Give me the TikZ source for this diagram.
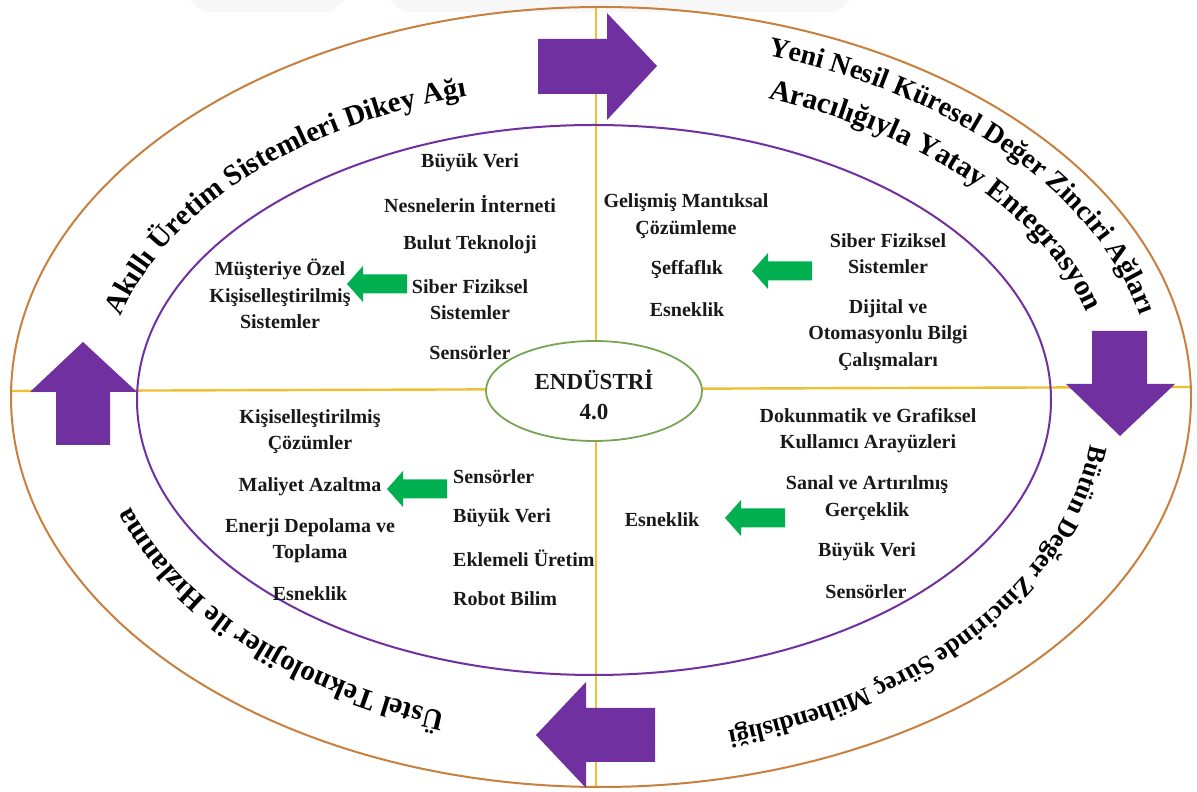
\documentclass[tikz,border=0pt]{standalone}
\usepackage{fontspec}
\setmainfont{Liberation Serif}
\usetikzlibrary{decorations.text,shapes.geometric,calc}
\definecolor{ringorange}{RGB}{200,128,62}
\definecolor{ringpurple}{RGB}{112,48,160}
\definecolor{arrowpurple}{RGB}{112,48,160}
\definecolor{arrowgreen}{RGB}{0,176,80}
\definecolor{coregreen}{RGB}{120,165,85}
\definecolor{lineyellow}{RGB}{240,192,50}
\definecolor{inktext}{RGB}{25,25,25}
\newcommand\ringA{\fontsize{29}{29}\selectfont\bfseries}
\newcommand\ringB{\fontsize{28}{28}\selectfont\bfseries}
\newcommand\ringBB{\fontsize{29.5}{29.5}\selectfont\bfseries}
\newcommand\ringC{\fontsize{26}{26}\selectfont\bfseries}
\newcommand\ringD{\fontsize{29}{29}\selectfont\bfseries}
\newcommand\greenarrow[2]{\fill[arrowgreen] (#1,#2) -- ++(16,18) -- ++(0,-8.5) -- ++(44,0) -- ++(0,-19) -- ++(-44,0) -- ++(0,-8.5) -- cycle;}
\begin{document}
\begin{tikzpicture}[x=1pt,y=1pt,
  item/.style={font=\fontsize{20}{26.5}\selectfont\bfseries, align=center, inner sep=0pt, text=inktext},
  coretext/.style={font=\fontsize{23}{30}\selectfont\bfseries, align=center, inner sep=0pt, text=inktext},
  coreshape/.style={ellipse, draw=coregreen, line width=1.8pt, fill=white, minimum width=216pt, minimum height=100pt, inner sep=0pt},
  bigarrow/.style={fill=arrowpurple},
  ringtext/.style={decorate}
]
\useasboundingbox (0,0) rectangle (1197,792);
\fill[white] (0,0) rectangle (1197,792);
\clip (0,0) rectangle (1197,792);
% faint banner at top
\fill[gray!6] (190,792) -- (345,792) -- (332,780) -- (203,780) -- cycle;
\fill[gray!6] (390,792) -- (850,792) -- (837,780) -- (403,780) -- cycle;

\coordinate (ringc) at (597,394);
\coordinate (hl) at (11,401);
\coordinate (hr) at (1191,405);
\coordinate (vt) at (596,784);
\coordinate (vb) at (596,4);

% quadrant lines
\draw[lineyellow, line width=2.4pt] (hl) -- (hr);
\draw[lineyellow, line width=2.4pt] (vt) -- (vb);

% ellipses
\draw[ringorange, line width=2pt] (601,395) ellipse [x radius=590pt, y radius=390pt];
\draw[ringpurple, line width=2pt] (594,392) ellipse [x radius=457pt, y radius=275pt];

% centre
\node[coreshape] (core) at (594,401) {};
\node[coretext] (coretxt) at (594,397) {ENDÜSTRİ\\4.0};

% purple arrows
\fill[bigarrow] (538,753) -- (607,753) -- (607,779) -- (657,726) -- (607,672) -- (607,698) -- (538,698) -- cycle;
\fill[bigarrow] (1092,461) -- (1147,461) -- (1147,408) -- (1175,408) -- (1120,356) -- (1066,408) -- (1092,408) -- cycle;
\fill[bigarrow] (83,450) -- (137,400) -- (110,400) -- (110,347) -- (56,347) -- (56,400) -- (30,400) -- cycle;
\fill[bigarrow] (536,57) -- (586,110) -- (586,84) -- (655,84) -- (655,30) -- (586,30) -- (586,4) -- cycle;

% green arrows
\greenarrow{347}{508}
\greenarrow{752}{521}
\greenarrow{387}{303}
\greenarrow{725}{274}

% top-left quadrant
\node[item] (tl1) at (470,629) {Büyük Veri};
\node[item] (tl2) at (470,588) {Nesnelerin İnterneti};
\node[item] (tl3) at (470,547) {Bulut Teknoloji};
\node[item] (tl4) at (470,492.5) {Siber Fiziksel\\Sistemler};
\node[item] (tl5) at (470,439) {Sensörler};
\node[item] (tl6) at (280,498) {Müşteriye Özel\\Kişiselleştirilmiş\\Sistemler};

% top-right quadrant
\node[item] (tr1) at (686,576) {Gelişmiş Mantıksal\\Çözümleme};
\node[item] (tr2) at (687,522) {Şeffaflık};
\node[item] (tr3) at (687,482) {Esneklik};
\node[item] (tr4) at (888,538.5) {Siber Fiziksel\\Sistemler};
\node[item] (tr5) at (888,457) {Dijital ve\\Otomasyonlu Bilgi\\Çalışmaları};

% bottom-left quadrant
\node[item] (bl1) at (310,360.5) {Kişiselleştirilmiş\\Çözümler};
\node[item] (bl2) at (310,305) {Maliyet Azaltma};
\node[item] (bl3) at (310,251.5) {Enerji Depolama ve\\Toplama};
\node[item] (bl4) at (310,198) {Esneklik};
\node[item, anchor=west] (bl5) at (453,315) {Sensörler};
\node[item, anchor=west] (bl6) at (453,274) {Büyük Veri};
\node[item, anchor=west] (bl7) at (453,234) {Eklemeli Üretim};
\node[item, anchor=west] (bl8) at (453,193) {Robot Bilim};

% bottom-right quadrant
\node[item] (br1) at (868,361.5) {Dokunmatik ve Grafiksel\\Kullanıcı Arayüzleri};
\node[item] (br2) at (867,294) {Sanal ve Artırılmış\\Gerçeklik};
\node[item] (br3) at (867,240) {Büyük Veri};
\node[item] (br4) at (866,200) {Sensörler};
\node[item] (br5) at (662,272) {Esneklik};

% ring texts
\path[ringtext, decoration={text along path, text align=left, text={|\ringA|Akıllı Üretim Sistemleri Dikey Ağı}}]
  ($(ringc)+(165:493pt and 313pt)$) arc[start angle=165, end angle=80, x radius=493pt, y radius=313pt];
\path[ringtext, decoration={text along path, text align=left, text={|\ringB|Yeni Nesil Küresel Değer Zinciri Ağları}}]
  ($(ringc)+(72.2:558pt and 360pt)$) arc[start angle=72.2, end angle=-2, x radius=558pt, y radius=360pt];
\path[ringtext, decoration={text along path, text align=left, text={|\ringBB|Aracılığıyla Yatay Entegrasyon}}]
  ($(ringc)+(70.3:508pt and 318pt)$) arc[start angle=70.3, end angle=-2, x radius=508pt, y radius=318pt];
\path[ringtext, decoration={text along path, text align=left, text={|\ringC|Bütün Değer Zincirinde Süreç Mühendisliği}}]
  ($(ringc)+(-7.8:497.6pt and 344.5pt)$) arc[start angle=-7.8, end angle=-100, x radius=497.6pt, y radius=344.5pt];
\path[ringtext, decoration={text along path, text align=left, text={|\ringD|Üstel Teknolojiler ile Hızlanma}}]
  ($(ringc)+(-107.9:493.7pt and 330pt)$) arc[start angle=-107.9, end angle=-178, x radius=493.7pt, y radius=330pt];
\end{tikzpicture}
\end{document}
